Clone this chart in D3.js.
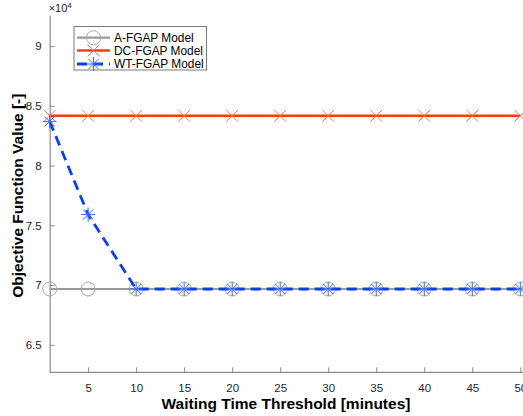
<!DOCTYPE html>
<html>
<head>
<meta charset="utf-8">
<script src="https://cdn.jsdelivr.net/npm/d3@7"></script>
<style>
  html, body { margin: 0; padding: 0; background: #fff; }
  svg { display: block; font-family: "Liberation Sans", Arial, Helvetica, sans-serif; }
</style>
</head>
<body>
<svg id="chart" width="523" height="416"></svg>
<script>
// Waiting time thresholds (minutes)
const thresholds = [1, 5, 10, 15, 20, 25, 30, 35, 40, 45, 50];
// Objective function values, in units of 10^4
const aFgap  = [6.967, 6.967, 6.967, 6.967, 6.967, 6.967, 6.967, 6.967, 6.967, 6.967, 6.967];
const dcFgap = [8.417, 8.417, 8.417, 8.417, 8.417, 8.417, 8.417, 8.417, 8.417, 8.417, 8.417];
const wtFgap = [8.370, 7.590, 6.967, 6.967, 6.967, 6.967, 6.967, 6.967, 6.967, 6.967, 6.967];
const xTicks = [5, 10, 15, 20, 25, 30, 35, 40, 45, 50];
const yTicks = [6.5, 7, 7.5, 8, 8.5, 9];
const seriesNames = ["A-FGAP Model", "DC-FGAP Model", "WT-FGAP Model"];

const svg = d3.select("#chart");
const mLeft = 49.7, mRight = 520.3, mTop = 15, mBottom = 372.3;

const x = d3.scaleLinear().domain([1, 50]).range([mLeft, mRight]);
const y = d3.scaleLinear().domain([6.27, 9.26]).range([mBottom, mTop]);

const axisColor = "#8c8c8c";
const textColor = "#262626";

// X axis (ticks pointing inward)
const gx = svg.append("g").attr("transform", `translate(0,${mBottom})`)
  .call(d3.axisBottom(x).tickValues(xTicks).tickSizeInner(-5).tickSizeOuter(0).tickPadding(12));
gx.select(".domain").attr("stroke", axisColor).attr("stroke-width", 1.2)
  .attr("d", `M${mLeft},0H${mRight + 3}`);
gx.selectAll(".tick line").attr("stroke", axisColor);
gx.selectAll(".tick text").attr("fill", textColor).attr("font-size", 11.5);

// Y axis
const gy = svg.append("g").attr("transform", `translate(${mLeft},0)`)
  .call(d3.axisLeft(y).tickValues(yTicks).tickSizeInner(-5).tickSizeOuter(0).tickPadding(8)
    .tickFormat(d3.format("")));
gy.select(".domain").attr("stroke", axisColor).attr("stroke-width", 1.2);
gy.selectAll(".tick line").attr("stroke", axisColor);
gy.selectAll(".tick text").attr("fill", textColor).attr("font-size", 11.5);

// Exponent label
const expo = svg.append("text").attr("x", mLeft - 1).attr("y", 12)
  .attr("fill", textColor).attr("font-size", 11);
expo.append("tspan").text("\u00d710");
expo.append("tspan").attr("dy", -4).attr("font-size", 8).text("4");

// Axis titles
svg.append("text").attr("x", (mLeft + mRight) / 2 + 1).attr("y", 409)
  .attr("text-anchor", "middle").attr("font-weight", "bold").attr("font-size", 15.5)
  .attr("fill", "#000").text("Waiting Time Threshold [minutes]");
svg.append("text").attr("transform", `translate(23,${(mTop + mBottom) / 2 + 2}) rotate(-90)`)
  .attr("text-anchor", "middle").attr("font-weight", "bold").attr("font-size", 15.5)
  .attr("fill", "#000").text("Objective Function Value [-]");

svg.append("clipPath").attr("id", "plotclip")
  .append("rect").attr("x", mLeft - 10).attr("y", mTop - 10)
  .attr("width", mRight - mLeft + 20).attr("height", mBottom - mTop + 20);
const plot = svg.append("g").attr("clip-path", "url(#plotclip)");

const line = d3.line().x(d => x(d[0])).y(d => y(d[1]));
const pts = vals => thresholds.map((t, i) => [t, vals[i]]);

const colA = "#9a9a9a", colDC = "#ff3a10", colWT = "#0a3cff";

// Marker drawing helpers
function circleMarker(g, cx, cy) {
  g.append("circle").attr("cx", cx).attr("cy", cy).attr("r", 7)
    .attr("fill", "none").attr("stroke", "#a8a8a8").attr("stroke-width", 1);
}
function crossMarker(g, cx, cy) {
  const s = 6;
  g.append("path").attr("d", `M${cx - s},${cy - s}L${cx + s},${cy + s}M${cx - s},${cy + s}L${cx + s},${cy - s}`)
    .attr("stroke", "#ff7a5c").attr("stroke-width", 1).attr("fill", "none");
}
function starMarker(g, cx, cy) {
  const s = 7, d = 5;
  g.append("path").attr("d",
    `M${cx - s},${cy}L${cx + s},${cy}M${cx},${cy - s}L${cx},${cy + s}` +
    `M${cx - d},${cy - d}L${cx + d},${cy + d}M${cx - d},${cy + d}L${cx + d},${cy - d}`)
    .attr("stroke", "#3a66ff").attr("stroke-width", 1).attr("fill", "none");
}

// A-FGAP
plot.append("path").datum(pts(aFgap)).attr("d", line)
  .attr("fill", "none").attr("stroke", colA).attr("stroke-width", 2.2);
pts(aFgap).forEach(p => circleMarker(plot, x(p[0]), y(p[1])));

// DC-FGAP
plot.append("path").datum(pts(dcFgap)).attr("d", line)
  .attr("fill", "none").attr("stroke", colDC).attr("stroke-width", 2.6);
pts(dcFgap).forEach(p => crossMarker(plot, x(p[0]), y(p[1])));

// WT-FGAP
plot.append("path").datum(pts(wtFgap)).attr("d", line)
  .attr("fill", "none").attr("stroke", colWT).attr("stroke-width", 2.8)
  .attr("stroke-dasharray", "10,6");
pts(wtFgap).forEach(p => starMarker(plot, x(p[0]), y(p[1])));

// Legend
const lg = svg.append("g");
lg.append("rect").attr("x", 74).attr("y", 26.5).attr("width", 132.5).attr("height", 43.5)
  .attr("fill", "#fff").attr("stroke", "#7a7a7a").attr("stroke-width", 1);
const rows = [37.7, 50.5, 64];
const lx0 = 77, lx1 = 110, lm = 93.5;
lg.append("line").attr("x1", lx0).attr("x2", lx1).attr("y1", rows[0]).attr("y2", rows[0])
  .attr("stroke", colA).attr("stroke-width", 2.2);
circleMarker(lg, lm, rows[0]);
lg.append("line").attr("x1", lx0).attr("x2", lx1).attr("y1", rows[1]).attr("y2", rows[1])
  .attr("stroke", colDC).attr("stroke-width", 2.6);
crossMarker(lg, lm, rows[1]);
lg.append("line").attr("x1", lx0).attr("x2", lx1).attr("y1", rows[2]).attr("y2", rows[2])
  .attr("stroke", colWT).attr("stroke-width", 2.8).attr("stroke-dasharray", "10,6");
starMarker(lg, lm, rows[2]);
seriesNames.forEach((n, i) => {
  lg.append("text").attr("x", 114).attr("y", rows[i] + 4.2).attr("font-size", 11.9)
    .attr("fill", "#000").text(n);
});
</script>
</body>
</html>
